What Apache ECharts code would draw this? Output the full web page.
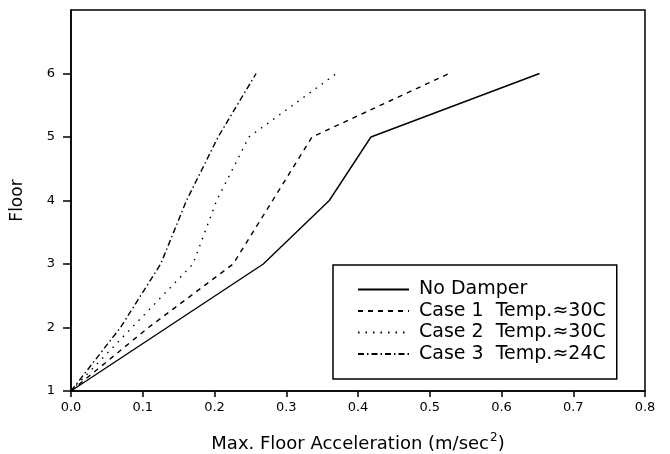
<!DOCTYPE html>
<html>
<head>
<meta charset="utf-8">
<script src="https://cdn.jsdelivr.net/npm/echarts@6/dist/echarts.min.js"></script>
<style>html,body{margin:0;padding:0;background:#fff}#c{width:670px;height:454px}</style>
</head>
<body>
<div id="c"></div>
<script>
const floors = [1, 2, 3, 4, 5, 6];
const noDamper = [0, 0.134, 0.268, 0.36, 0.418, 0.653];
const case1 = [0, 0.108, 0.226, 0.281, 0.336, 0.527];
const case2 = [0, 0.085, 0.17, 0.203, 0.248, 0.37];
const case3 = [0, 0.069, 0.125, 0.161, 0.205, 0.258];
const xTicks = [0, 0.1, 0.2, 0.3, 0.4, 0.5, 0.6, 0.7, 0.8];
const yTicks = [1, 2, 3, 4, 5, 6];
const names = ['No Damper', 'Case 1  Temp.≈30C', 'Case 2  Temp.≈30C', 'Case 3  Temp.≈24C'];

function pts(xs) { return xs.map((x, i) => [x, floors[i]]); }

const styles = [
  { type: 'solid' },
  { type: [5, 5] },
  { type: [1.5, 6] },
  { type: [6, 3, 1.5, 3] }
];
const seriesData = [noDamper, case1, case2, case3];

const chart = echarts.init(document.getElementById('c'), null, { renderer: 'canvas' });
chart.setOption({
  animation: false,
  backgroundColor: '#fff',
  grid: { left: 71, right: 25, top: 10, bottom: 63, outerBoundsMode: 'none', containLabel: false, show: true, borderColor: '#000', borderWidth: 1.5, backgroundColor: 'transparent' },
  xAxis: {
    type: 'value', min: 0, max: 0.8, interval: 0.1,
    name: 'Max. Floor Acceleration (m/sec{sup|2})',
    nameLocation: 'middle', nameGap: 41,
    nameTextStyle: { color: '#000', fontSize: 18, fontFamily: 'DejaVu Sans', rich: { sup: { fontSize: 12, verticalAlign: 'top', padding: [0, 0, 12, 1], fontFamily: 'DejaVu Sans', color: '#000' } } },
    axisLine: { lineStyle: { color: '#000', width: 1.5 } },
    axisTick: { length: 6, lineStyle: { color: '#000', width: 1.5 }, customValues: xTicks },
    axisLabel: { color: '#000', fontSize: 13, fontFamily: 'DejaVu Sans', margin: 10, customValues: xTicks, formatter: v => v.toFixed(1) },
    splitLine: { show: false }
  },
  yAxis: {
    type: 'value', min: 1, max: 7, interval: 1,
    name: 'Floor', nameLocation: 'middle', nameGap: 45, nameRotate: 90,
    nameTextStyle: { color: '#000', fontSize: 17, fontFamily: 'DejaVu Sans' },
    axisLine: { lineStyle: { color: '#000', width: 1.5 } },
    axisTick: { length: 8, lineStyle: { color: '#000', width: 1.5 }, customValues: yTicks },
    axisLabel: { color: '#000', fontSize: 13, fontFamily: 'DejaVu Sans', margin: 16, customValues: yTicks },
    splitLine: { show: false }
  },
  legend: {
    orient: 'vertical', left: 333, top: 265,
    data: names,
    itemWidth: 51, itemHeight: 14, itemGap: 2.5,
    padding: [15, 11, 15.5, 24],
    borderColor: '#000', borderWidth: 1.5, backgroundColor: '#fff',
    selectedMode: false,
    itemStyle: { opacity: 0 },
    textStyle: { color: '#000', fontSize: 19, fontFamily: 'DejaVu Sans', lineHeight: 17.5, padding: [0, 0, 0, 5] }
  },
  series: seriesData.map((d, i) => ({
    name: names[i], type: 'line', data: pts(d), symbol: 'none',
    lineStyle: { color: '#000', width: 1.4, type: styles[i].type },
    itemStyle: { color: '#000' }
  }))
});
</script>
</body>
</html>
